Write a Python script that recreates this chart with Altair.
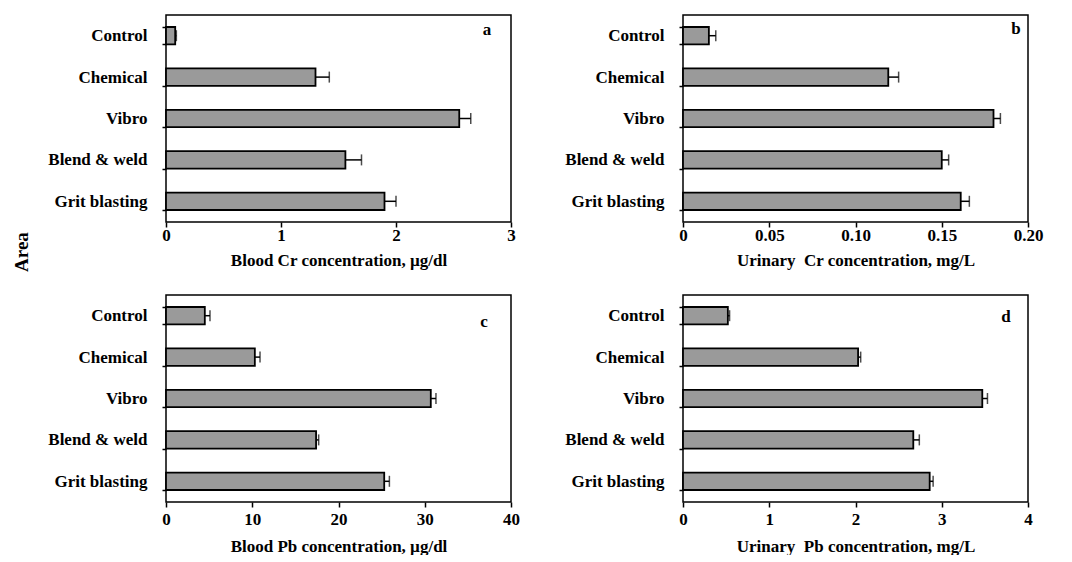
import altair as alt
import pandas as pd

areas = ["Control", "Chemical", "Vibro", "Blend & weld", "Grit blasting"]

blood_cr = [0.08, 1.30, 2.55, 1.56, 1.90]
blood_cr_sd = [0.01, 0.12, 0.10, 0.14, 0.10]

urine_cr = [0.015, 0.119, 0.180, 0.150, 0.161]
urine_cr_sd = [0.004, 0.006, 0.004, 0.004, 0.005]

blood_pb = [4.5, 10.3, 30.7, 17.4, 25.3]
blood_pb_sd = [0.6, 0.6, 0.6, 0.3, 0.6]

urine_pb = [0.52, 2.03, 3.47, 2.67, 2.86]
urine_pb_sd = [0.02, 0.03, 0.06, 0.07, 0.04]

FONT = "Liberation Serif"
W, H = 345, 207


def panel(vals, sds, dom, ticks, label_expr, title, letter, lx, ly,
          lpad=0, tpad=9):
    df = pd.DataFrame({
        "area": areas,
        "value": vals,
        "upper": [v + s for v, s in zip(vals, sds)],
    })
    y = alt.Y(
        "area:N", sort=areas, title=None,
        scale=alt.Scale(paddingInner=0.58, paddingOuter=0.29),
        axis=alt.Axis(tickBand="extent", tickSize=4, labelPadding=15,
                      domain=False),
    )
    xs = alt.Scale(domain=dom, nice=False, zero=True)
    base = alt.Chart(df)
    bars = base.mark_bar(fill="#9a9a9a", stroke="black", strokeWidth=1.8).encode(
        x=alt.X("value:Q", scale=xs,
                axis=alt.Axis(values=ticks, labelExpr=label_expr, title=title,
                              tickSize=5, domain=False, titlePadding=tpad,
                              labelPadding=lpad, labelFlush=False)),
        y=y,
    )
    rule = base.mark_rule(color="black", strokeWidth=1.5).encode(
        x=alt.X("value:Q", scale=xs), x2="upper:Q", y=y
    )
    cap = base.mark_tick(orient="vertical", size=11, thickness=1.5,
                         color="black").encode(
        x=alt.X("upper:Q", scale=xs), y=y
    )
    lab = alt.Chart(pd.DataFrame({"t": [letter]})).mark_text(
        font=FONT, fontSize=17, fontWeight="bold", color="black"
    ).encode(text="t:N", x=alt.value(lx), y=alt.value(ly))
    return alt.layer(rule, bars, cap, lab).properties(width=W, height=H)


a = panel(blood_cr, blood_cr_sd, [0, 3], [0, 1, 2, 3], "format(datum.value, 'd')",
          "Blood Cr concentration, µg/dl", "a", W - 24, 15)
b = panel(urine_cr, urine_cr_sd, [0, 0.2], [0, 0.05, 0.10, 0.15, 0.20],
          "datum.value == 0 ? '0' : format(datum.value, '.2f')",
          "Urinary\u00a0 Cr concentration, mg/L", "b", W - 12, 14)
c = panel(blood_pb, blood_pb_sd, [0, 40], [0, 10, 20, 30, 40], "format(datum.value, 'd')",
          "Blood Pb concentration, µg/dl", "c", W - 27, 27, lpad=4, tpad=11)
d = panel(urine_pb, urine_pb_sd, [0, 4], [0, 1, 2, 3, 4], "format(datum.value, 'd')",
          "Urinary\u00a0 Pb concentration, mg/L", "d", W - 22, 22, lpad=4, tpad=11)

top = alt.hconcat(a, b, spacing=48)
bottom = alt.hconcat(c, d, spacing=43)

chart = alt.vconcat(top, bottom, spacing=16).properties(
    title=alt.TitleParams("Area", orient="left", anchor="middle", font=FONT,
                          fontSize=19, fontWeight="bold", color="black", offset=15,
                          dx=28),
    background="white",
    padding={"top": -3, "left": 5, "right": 5, "bottom": 0},
).configure_view(
    stroke="black", strokeWidth=1.5
).configure_axis(
    labelFont=FONT, titleFont=FONT, labelFontSize=17, titleFontSize=17,
    labelFontWeight="bold", titleFontWeight="bold",
    labelColor="black", titleColor="black", tickColor="black",
    domainColor="black", grid=False, tickWidth=1.5
)

chart.save("out.html", embed_options={"renderer": "svg", "actions": False})
